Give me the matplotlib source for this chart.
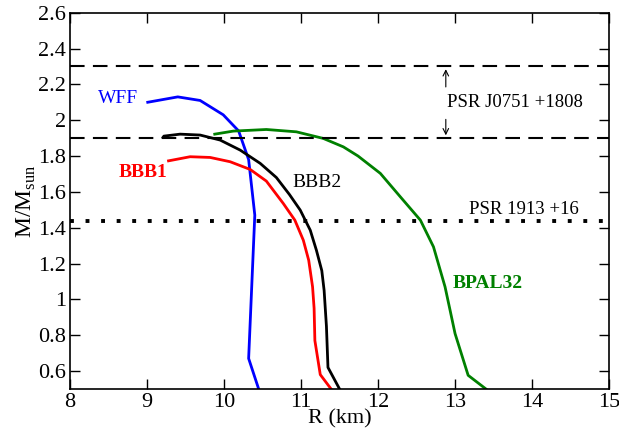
import matplotlib
matplotlib.use('Agg')
import matplotlib.pyplot as plt

plt.rcParams['font.family'] = ['Liberation Serif', 'DejaVu Serif']
plt.rcParams['mathtext.fontset'] = 'custom'
plt.rcParams['mathtext.rm'] = 'Liberation Serif'

# mass-radius curves
wff_r = [9.01, 9.40, 9.69, 9.99, 10.19, 10.32, 10.40, 10.32, 10.45]
wff_m = [2.10, 2.13, 2.11, 2.03, 1.94, 1.78, 1.47, 0.67, 0.50]

bbb1_r = [9.28, 9.56, 9.82, 10.08, 10.34, 10.55, 10.77, 10.92, 11.03,
          11.10, 11.15, 11.17, 11.18, 11.25, 11.39]
bbb1_m = [1.773, 1.796, 1.792, 1.768, 1.725, 1.66, 1.535, 1.442, 1.33,
          1.218, 1.07, 0.95, 0.77, 0.58, 0.50]

bbb2_r = [9.21, 9.22, 9.43, 9.69, 9.95, 10.21, 10.47, 10.68, 10.85, 10.99,
          11.12, 11.20, 11.27, 11.30, 11.33, 11.35, 11.50]
bbb2_m = [1.905, 1.911, 1.922, 1.917, 1.889, 1.833, 1.759, 1.68, 1.585, 1.498,
          1.386, 1.274, 1.16, 1.05, 0.85, 0.62, 0.50]

bpal_r = [9.88, 10.12, 10.55, 10.94, 11.29, 11.55, 11.74, 12.03, 12.29, 12.55,
          12.72, 12.87, 12.94, 13.00, 13.17, 13.40]
bpal_m = [1.922, 1.939, 1.948, 1.935, 1.898, 1.851, 1.80, 1.703, 1.572, 1.442,
          1.293, 1.07, 0.93, 0.809, 0.576, 0.50]

# pulsar mass limits
psr0751_lo = 1.90
psr0751_hi = 2.30
psr1913 = 1.44

fig = plt.figure(figsize=(6.19, 4.37), dpi=100)
ax = fig.add_axes([0.113, 0.110, 0.871, 0.861])

ax.plot(wff_r, wff_m, color='#0000ff', lw=2)
ax.plot(bbb1_r, bbb1_m, color='#ff0000', lw=2, solid_joinstyle='round')
ax.plot(bbb2_r, bbb2_m, color='black', lw=2, solid_joinstyle='round')
ax.plot(bpal_r, bpal_m, color='#008000', lw=2, solid_joinstyle='round')

ax.axhline(psr0751_hi, color='black', lw=1.5, dashes=(7, 4))
ax.axhline(psr0751_lo, color='black', lw=1.5, dashes=(7, 4))
ax.axhline(psr1913, color='black', lw=2.8, dashes=(1, 3))

# arrows for the J0751 band
ax.annotate('', xy=(12.88, psr0751_hi), xytext=(12.88, 2.17),
            arrowprops=dict(arrowstyle='->', lw=0.8, color='black'))
ax.annotate('', xy=(12.88, psr0751_lo), xytext=(12.88, 2.02),
            arrowprops=dict(arrowstyle='->', lw=0.8, color='black'))

ax.text(8.62, 2.12, 'WFF', color='#0000ff', fontsize=14, ha='center', va='center')
ax.text(8.95, 1.71, 'BBB1', color='#ff0000', fontsize=14, fontweight='bold',
        ha='center', va='center')
ax.text(11.21, 1.652, 'BBB2', color='black', fontsize=14, ha='center', va='center')
ax.text(13.43, 1.09, 'BPAL32', color='#008000', fontsize=14, fontweight='bold',
        ha='center', va='center')
ax.text(13.78, 2.10, 'PSR J0751 +1808', fontsize=13.5, ha='center', va='center')
ax.text(13.90, 1.50, 'PSR 1913 +16', fontsize=13.5, ha='center', va='center')

ax.set_xlim(8, 15)
ax.set_ylim(0.5, 2.6)
ax.set_xticks([8, 9, 10, 11, 12, 13, 14, 15])
ax.set_yticks([0.6, 0.8, 1.0, 1.2, 1.4, 1.6, 1.8, 2.0, 2.2, 2.4, 2.6])
ax.set_yticklabels(['0.6', '0.8', '1', '1.2', '1.4', '1.6', '1.8', '2', '2.2', '2.4', '2.6'])
ax.tick_params(direction='in', top=True, right=True, length=7, width=1,
               labelsize=16, pad=3)
for s in ax.spines.values():
    s.set_linewidth(1.2)

ax.set_xlabel('R (km)', fontsize=16, labelpad=-2)
ax.set_ylabel(r'M/M$_{\rm sun}$', fontsize=17, labelpad=0)

fig.savefig('out.png', dpi=100)
